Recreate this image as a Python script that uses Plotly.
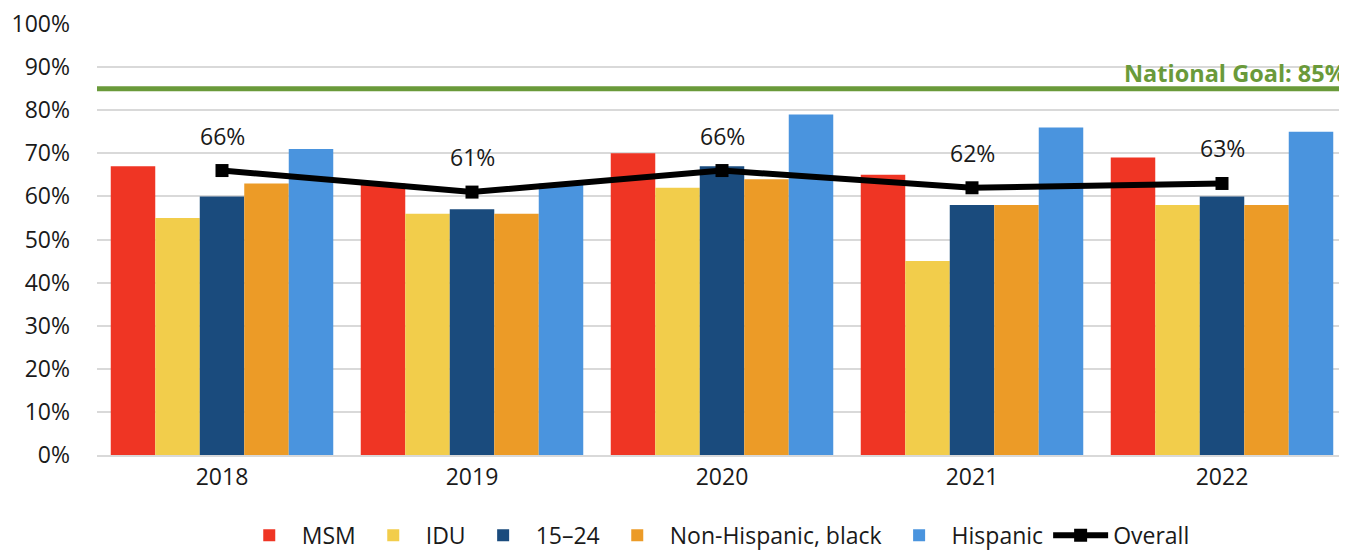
import plotly.graph_objects as go

years = ["2018", "2019", "2020", "2021", "2022"]
msm = [67, 63, 70, 65, 69]
idu = [55, 56, 62, 45, 58]
age_15_24 = [60, 57, 67, 58, 60]
nh_black = [63, 56, 64, 58, 58]
hispanic = [71, 63, 79, 76, 75]
overall = [66, 61, 66, 62, 63]
goal = 85
y_ticks = [0, 10, 20, 30, 40, 50, 60, 70, 80, 90, 100]
y_tick_labels = [f"{v}%" for v in y_ticks]

series = [
    ("MSM", msm, "#EF3524"),
    ("IDU", idu, "#F2CD4B"),
    ("15–24", age_15_24, "#1A4B7D"),
    ("Non-Hispanic, black", nh_black, "#EC9B27"),
    ("Hispanic", hispanic, "#4A94DE"),
]

font = "Open Sans"
fs = 23
fig = go.Figure()
for name, vals, col in series:
    fig.add_trace(go.Bar(x=years, y=vals, name=name, marker=dict(color=col, line=dict(width=0))))

fig.add_trace(go.Scatter(
    x=years, y=overall, name="Overall", mode="lines+markers",
    line=dict(color="black", width=6),
    marker=dict(symbol="square", size=13, color="black"),
))

for i, v in enumerate(overall):
    fig.add_annotation(x=i, y=v, text=f"{v}%", showarrow=False, yshift=35,
                       font=dict(family=font, size=fs, color="#1a1a1a"))

fig.add_shape(type="line", xref="paper", x0=0, x1=1, yref="y", y0=goal, y1=goal,
              line=dict(color="#6A9A3A", width=5), layer="above")
fig.add_annotation(xref="paper", x=0.82, y=goal, yshift=-2, text=f"<b>National Goal: {goal}%</b>",
                   showarrow=False, xanchor="left", yanchor="bottom",
                   font=dict(family=font, size=23.5, color="#6A9A3A"))

# page body has an 8px margin, so the figure is sized to fill the 1347x550 window
fig.update_layout(
    width=1339, height=542,
    margin=dict(l=89, r=0, t=16, b=95, autoexpand=False),
    paper_bgcolor="white", plot_bgcolor="white",
    barmode="group", bargap=0.11, bargroupgap=0,
    font=dict(family=font, size=fs, color="#1a1a1a"),
    legend=dict(orientation="h", x=0.495, xanchor="center", yref="container", y=0.027,
                yanchor="middle", font=dict(family=font, size=fs), traceorder="normal",
                itemwidth=55),
    xaxis=dict(type="category", range=[-0.5, len(years) - 0.5], showgrid=False,
               showline=True, linecolor="#d9d9d9", linewidth=2, automargin=False,
               tickfont=dict(size=fs), ticks=""),
    yaxis=dict(range=[0, 100], tickvals=y_ticks, ticktext=y_tick_labels, automargin=False,
               showgrid=True, gridcolor="#d9d9d9", gridwidth=2, zeroline=False,
               tickfont=dict(size=fs), ticklabelstandoff=26, ticklabeloverflow="allow"),
)

fig.write_html("out.html")
